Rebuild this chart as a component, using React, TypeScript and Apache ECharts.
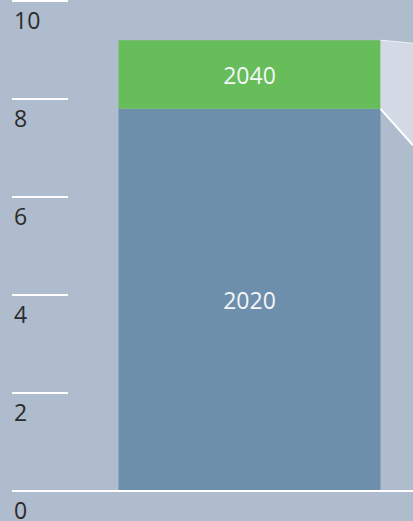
import React, { useEffect, useRef } from "react";
import * as echarts from "echarts";

const categories = ["A"];
const values2020 = [7.8];
const values2040 = [1.4];
const yTicks = [0, 2, 4, 6, 8, 10];

export default function App() {
  const ref = useRef<HTMLDivElement>(null);
  useEffect(() => {
    if (!ref.current) return;
    const chart = echarts.init(ref.current, undefined, { renderer: "svg" });
    const font = "Open Sans";
    chart.setOption({
      animation: false,
      backgroundColor: "#afbccd",
      grid: { left: 86, right: 0, top: 1, bottom: 28, containLabel: false },
      xAxis: {
        type: "category",
        data: categories,
        axisLine: { show: false },
        axisTick: { show: false },
        axisLabel: { show: false },
      },
      yAxis: {
        type: "value",
        min: 0,
        max: 10,
        interval: 2,
        offset: 18,
        axisLine: { show: false },
        splitLine: { show: false },
        axisTick: { show: true, length: 56, lineStyle: { color: "#ffffff", width: 2 } },
        axisLabel: {
          show: true,
          align: "left",
          verticalAlign: "top",
          margin: 54,
          padding: [7, 0, 0, 0],
          color: "#2b2b2b",
          fontFamily: font,
          fontSize: 23,
          formatter: (v: number) => (yTicks.includes(v) ? String(v) : ""),
        },
      },
      series: [
        {
          type: "bar",
          name: "2020",
          stack: "s",
          data: values2020,
          barWidth: 262,
          itemStyle: { color: "#6d8fab" },
          label: {
            show: true,
            position: "inside",
            formatter: "2020",
            color: "#f4f6f8",
            fontFamily: font,
            fontSize: 23,
          },
        },
        {
          type: "bar",
          name: "2040",
          stack: "s",
          data: values2040,
          barWidth: 262,
          itemStyle: { color: "#66bd5a" },
          label: {
            show: true,
            position: "inside",
            formatter: "2040",
            color: "#f4f6f8",
            fontFamily: font,
            fontSize: 23,
          },
        },
      ],
    });
    const total = values2020[0] + values2040[0];
    const pTop = chart.convertToPixel({ gridIndex: 0 }, [0, total]) as number[];
    const pMid = chart.convertToPixel({ gridIndex: 0 }, [0, values2020[0]]) as number[];
    const pZero = chart.convertToPixel({ gridIndex: 0 }, [0, 0]) as number[];
    const right = pTop[0] + 131;
    const W = 413;
    const topEnd = pTop[1] + (W - right) * (3 / 32);
    const midEnd = pMid[1] + (W - right) * (36 / 32);
    chart.setOption({
      graphic: [
        {
          type: "line",
          shape: { x1: 12, y1: pZero[1], x2: W, y2: pZero[1] },
          style: { stroke: "#ffffff", lineWidth: 2 },
          z: 12,
        },
        {
          type: "polygon",
          shape: { points: [[right, pTop[1]], [W, topEnd], [W, midEnd], [right, pMid[1]]] },
          style: { fill: "#d4dae5" },
          z: 10,
        },
        {
          type: "line",
          shape: { x1: right, y1: pMid[1], x2: W, y2: midEnd },
          style: { stroke: "#ffffff", lineWidth: 2 },
          z: 11,
        },
        {
          type: "line",
          shape: { x1: right, y1: pTop[1], x2: W, y2: topEnd },
          style: { stroke: "#eef1f6", lineWidth: 1 },
          z: 11,
        },
      ],
    });
    return () => chart.dispose();
  }, []);
  return <div ref={ref} style={{ width: 413, height: 521, position: "fixed", left: 0, top: 0 }} />;
}
